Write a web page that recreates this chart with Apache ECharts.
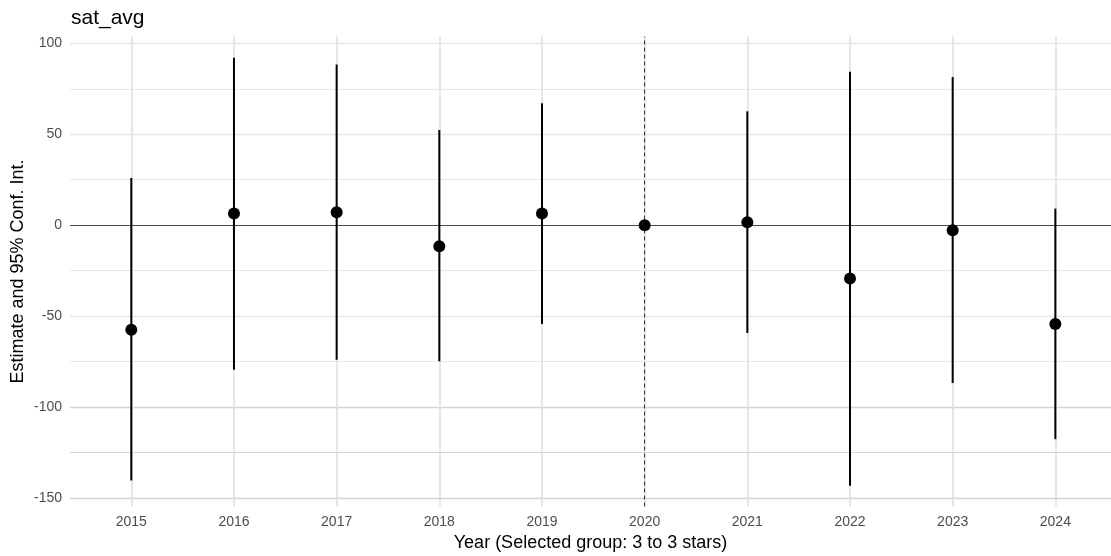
<!DOCTYPE html>
<html>
<head>
<meta charset="utf-8">
<script src="https://cdn.jsdelivr.net/npm/echarts@6/dist/echarts.min.js"></script>
<style>
  html, body { margin: 0; padding: 0; background: #fff; }
  #chart { width: 1111px; height: 556px; }
</style>
</head>
<body>
<div id="chart"></div>
<script>
// Event-study estimates with 95% confidence intervals, by year
const years     = [2015, 2016, 2017, 2018, 2019, 2020, 2021, 2022, 2023, 2024];
const estimates = [-57.5, 6.4, 7.1, -11.6, 6.4, 0, 1.6, -29.4, -2.8, -54.4];
const ciLower   = [-140.5, -79.5, -74.0, -74.9, -54.4, 0, -59.3, -143.4, -86.8, -117.7];
const ciUpper   = [25.9, 92.1, 88.3, 52.3, 67.0, 0, 62.6, 84.4, 81.5, 9.1];

const referenceYear = 2020;
const yTickLabels   = [-150, -100, -50, 0, 50, 100];
const yGridValues   = [-150, -125, -100, -75, -50, -25, 0, 25, 50, 75, 100];

const FONT = '"Liberation Sans", Arial, Helvetica, sans-serif';

// axis limits: discrete-style padding on x, 5% padding on y
const xMin = 2014.403, xMax = 2024.542;
const yMin = -154.75, yMax = 103.75;

const chart = echarts.init(document.getElementById('chart'), null, { renderer: 'canvas' });

const gridLines = [];
yGridValues.forEach(v => {
  if (v === 0) return;
  gridLines.push({
    yAxis: v,
    lineStyle: { color: v <= -100 ? '#d4d4d4' : '#e8e8e8', width: v % 50 === 0 ? 1.3 : 1.1, type: 'solid' }
  });
});
years.forEach(y => {
  gridLines.push({ xAxis: y, lineStyle: { color: '#e0e0e0', width: 1.6, type: 'solid' } });
});

const intervals = years.map((y, i) => [y, ciLower[i], ciUpper[i]]);
const points = years.map((y, i) => [y, estimates[i]]);

chart.setOption({
  animation: false,
  backgroundColor: '#ffffff',
  title: {
    text: 'sat_avg',
    left: 66,
    top: 3,
    textStyle: { fontFamily: FONT, fontSize: 21, fontWeight: 'normal', color: '#000' }
  },
  grid: { left: 70, right: 0, top: 36.5, bottom: 49.5, outerBoundsMode: 'none', containLabel: false },
  xAxis: {
    type: 'value',
    min: xMin,
    max: xMax,
    name: 'Year (Selected group: 3 to 3 stars)',
    nameLocation: 'middle',
    nameGap: 28,
    nameMoveOverlap: false,
    nameTextStyle: { fontFamily: FONT, fontSize: 18, color: '#000' },
    axisLine: { show: false },
    axisTick: { show: false },
    splitLine: { show: false },
    axisLabel: {
      customValues: years,
      formatter: v => String(v),
      fontFamily: FONT, fontSize: 14, color: '#4d4d4d', margin: 9
    }
  },
  yAxis: {
    type: 'value',
    min: yMin,
    max: yMax,
    name: 'Estimate and 95% Conf. Int.',
    nameLocation: 'middle',
    nameGap: 43,
    nameMoveOverlap: false,
    nameRotate: 90,
    nameTextStyle: { fontFamily: FONT, fontSize: 18, color: '#000' },
    axisLine: { show: false },
    axisTick: { show: false },
    splitLine: { show: false },
    axisLabel: {
      customValues: yTickLabels,
      formatter: v => String(v),
      fontFamily: FONT, fontSize: 14, color: '#4d4d4d', margin: 8
    }
  },
  series: [
    {
      // panel grid lines
      type: 'line',
      data: [],
      silent: true,
      z: 0,
      markLine: {
        z: 0,
        silent: true,
        symbol: ['none', 'none'],
        label: { show: false },
        animation: false,
        data: gridLines
      }
    },
    {
      // zero line and reference-year marker
      type: 'line',
      data: [],
      silent: true,
      z: 1,
      markLine: {
        z: 1,
        silent: true,
        symbol: ['none', 'none'],
        label: { show: false },
        animation: false,
        data: [
          { yAxis: 0, lineStyle: { color: '#4a4a4a', width: 1.2, type: 'solid' } },
          { xAxis: referenceYear, lineStyle: { color: '#333333', width: 1, type: [4, 3] } }
        ]
      }
    },
    {
      // confidence intervals
      type: 'custom',
      z: 2,
      data: intervals,
      renderItem: (params, api) => {
        const lo = api.coord([api.value(0), api.value(1)]);
        const hi = api.coord([api.value(0), api.value(2)]);
        return {
          type: 'line',
          shape: { x1: lo[0], y1: lo[1], x2: hi[0], y2: hi[1] },
          style: { stroke: '#000', lineWidth: 2 }
        };
      }
    },
    {
      // point estimates
      type: 'scatter',
      z: 3,
      data: points,
      symbol: 'circle',
      symbolSize: 12,
      itemStyle: { color: '#000', opacity: 1 }
    }
  ]
});
</script>
</body>
</html>
